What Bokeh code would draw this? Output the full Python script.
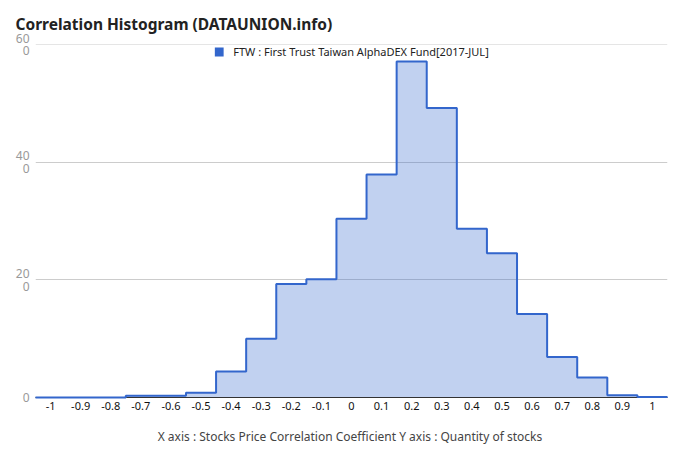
import numpy as np
from bokeh.plotting import figure
from bokeh.models import Range1d, Legend, LegendItem, FixedTicker, Span
from bokeh.embed import file_html
from bokeh.resources import INLINE

# ---- data ----
bin_centers = [-1.0, -0.9, -0.8, -0.7, -0.6, -0.5, -0.4, -0.3, -0.2, -0.1, 0.0,
               0.1, 0.2, 0.3, 0.4, 0.5, 0.6, 0.7, 0.8, 0.9, 1.0]
counts = [0, 0, 0, 3, 3, 8, 44, 100, 193, 201, 304,
          379, 571, 492, 287, 245, 142, 69, 34, 4, 1]
bin_width = 0.1
series_name = "FTW : First Trust Taiwan AlphaDEX Fund[2017-JUL]"
x_ticks = bin_centers
x_tick_labels = ["-1", "-0.9", "-0.8", "-0.7", "-0.6", "-0.5", "-0.4", "-0.3", "-0.2", "-0.1", "0",
                 "0.1", "0.2", "0.3", "0.4", "0.5", "0.6", "0.7", "0.8", "0.9", "1"]
y_ticks = [0, 200, 400, 600]
y_tick_labels = ["0", "20\n0", "40\n0", "60\n0"]

# step outline built from the bins
xs, ys = [], []
for c, v in zip(bin_centers, counts):
    xs += [c - bin_width / 2, c + bin_width / 2]
    ys += [v, v]

FONT = "Noto Sans"

p = figure(width=680, height=460, output_backend="svg", toolbar_location=None,
           x_range=Range1d(bin_centers[0] - bin_width / 2, bin_centers[-1] + bin_width / 2),
           y_range=Range1d(y_ticks[0], y_ticks[-1]),
           min_border_left=35, min_border_right=13, min_border_top=44, min_border_bottom=63)

p.title.text = "Correlation Histogram (DATAUNION.info)"
p.title.text_font = FONT
p.title.text_font_size = "15.5px"
p.title.text_font_style = "bold"
p.title.text_color = "#222222"
p.title.align = "left"
p.title.offset = -20
p.title.standoff = 20

p.varea(x=xs, y1=0, y2=ys, fill_color="#3366cc", fill_alpha=0.3)
p.line(x=xs, y=ys, line_color="#3366cc", line_width=2, level="overlay")

# top gridline (at the frame edge)
p.add_layout(Span(location=y_ticks[-1], dimension="width", line_color="#cccccc", line_width=1))

# zero-area swatch renderer used only for the legend entry
swatch = p.quad(left=[bin_centers[0]], right=[bin_centers[0]], top=[counts[0]], bottom=[counts[0]],
                fill_color="#3366cc", line_color=None)
legend = Legend(items=[LegendItem(label=series_name, renderers=[swatch])],
                location="top_center", orientation="horizontal",
                glyph_width=11, glyph_height=11, label_standoff=9,
                border_line_color=None, background_fill_alpha=0,
                padding=1, margin=0, label_text_font=FONT,
                label_text_font_size="11px", label_text_color="#222222")
p.add_layout(legend)

p.outline_line_color = None
p.xgrid.grid_line_color = None
p.ygrid.grid_line_color = "#cccccc"
p.ygrid.ticker = FixedTicker(ticks=y_ticks)

p.xaxis.ticker = FixedTicker(ticks=x_ticks)
p.xaxis.major_label_overrides = {t: l for t, l in zip(x_ticks, x_tick_labels)}
p.xaxis.major_tick_line_color = None
p.xaxis.major_tick_out = 0
p.xaxis.major_tick_in = 0
p.xaxis.minor_tick_line_color = None
p.xaxis.axis_line_color = "#333333"
p.xaxis.major_label_text_font = FONT
p.xaxis.major_label_text_font_size = "11px"
p.xaxis.major_label_text_color = "#111111"
p.xaxis.major_label_standoff = 4
p.xaxis.axis_label = "X axis : Stocks Price Correlation Coefficient  Y axis : Quantity of stocks"
p.xaxis.axis_label_text_font = FONT
p.xaxis.axis_label_text_font_size = "12px"
p.xaxis.axis_label_text_font_style = "normal"
p.xaxis.axis_label_text_color = "#444444"
p.xaxis.axis_label_standoff = 15

p.yaxis.ticker = FixedTicker(ticks=y_ticks)
p.yaxis.major_label_overrides = {t: l for t, l in zip(y_ticks, y_tick_labels)}
p.yaxis.axis_line_color = None
p.yaxis.major_tick_line_color = None
p.yaxis.major_tick_out = 0
p.yaxis.major_tick_in = 0
p.yaxis.minor_tick_line_color = None
p.yaxis.major_label_text_font = FONT
p.yaxis.major_label_text_font_size = "12px"
p.yaxis.major_label_text_line_height = 0.75
p.yaxis.major_label_text_color = "#999999"
p.yaxis.major_label_standoff = 6

open("out.html", "w").write(file_html(p, INLINE))
